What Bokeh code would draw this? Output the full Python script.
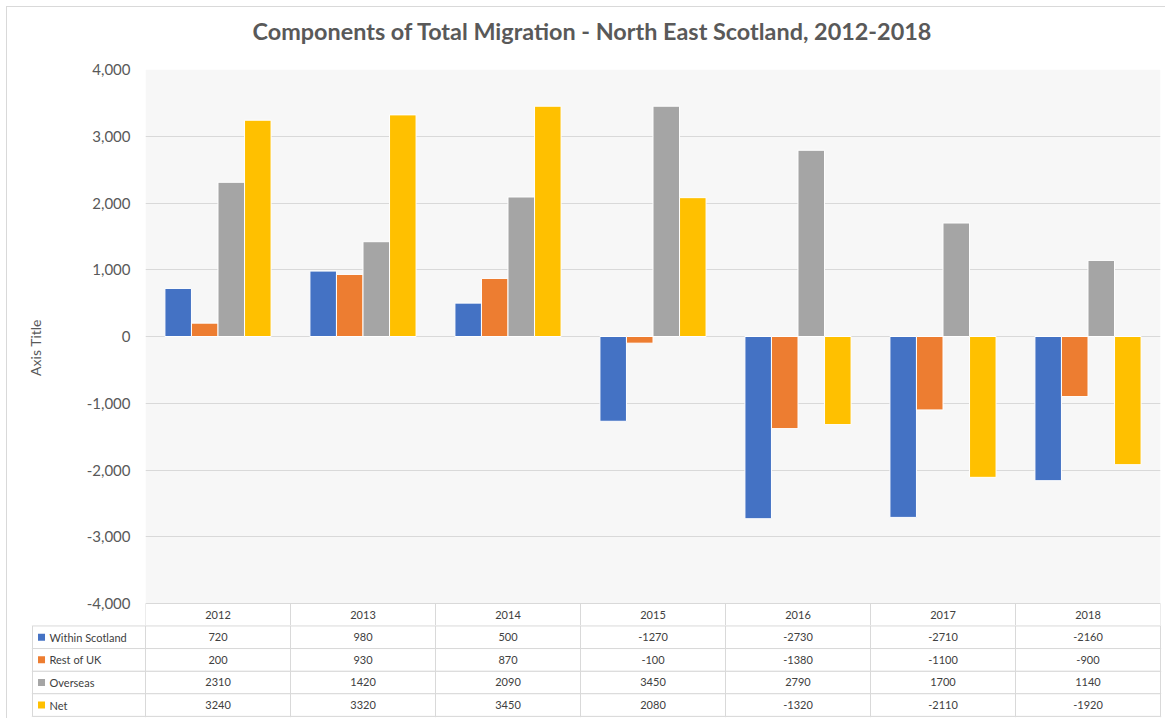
from bokeh.plotting import figure
from bokeh.layouts import column
from bokeh.models import (ColumnDataSource, FactorRange, Range1d, FixedTicker,
                          NumeralTickFormatter, BoxAnnotation, Title)
from bokeh.transform import dodge
from bokeh.core.properties import value
from bokeh.embed import file_html
from bokeh.resources import INLINE

# ---------------- data ----------------
years = ["2012", "2013", "2014", "2015", "2016", "2017", "2018"]
within_scotland = [720, 980, 500, -1270, -2730, -2710, -2160]
rest_of_uk = [200, 930, 870, -100, -1380, -1100, -900]
overseas = [2310, 1420, 2090, 3450, 2790, 1700, 1140]
net = [3240, 3320, 3450, 2080, -1320, -2110, -1920]
series_names = ["Within Scotland", "Rest of UK", "Overseas", "Net"]
series_colors = ["#4472C4", "#ED7D31", "#A5A5A5", "#FFC000"]
y_ticks = [-4000, -3000, -2000, -1000, 0, 1000, 2000, 3000, 4000]
chart_title = "Components of Total Migration - North East Scotland, 2012-2018"
y_axis_title = "Axis Title"

series_values = [within_scotland, rest_of_uk, overseas, net]

# ---------------- style ----------------
FONT = "Lato"
AXIS_GREY = "#595959"
TEXT_GREY = "#404040"
LINE_GREY = "#d9d9d9"
PLOT_BG = "#f7f7f7"

W = 1158
TOP = 62
PLOT_PX = 534
HEADER_PX = 22

y_low, y_high = y_ticks[0], y_ticks[-1]
units_per_px = (y_high - y_low) / PLOT_PX
y_start = y_low - HEADER_PX * units_per_px

p = figure(x_range=FactorRange(factors=years, range_padding=0),
           y_range=Range1d(y_start, y_high),
           width=W, height=TOP + PLOT_PX + HEADER_PX,
           output_backend="svg", toolbar_location=None,
           x_axis_location=None, frame_align=False,
           min_border_left=138, min_border_right=5,
           min_border_top=TOP, min_border_bottom=0,
           background_fill_color="white", border_fill_color="white",
           outline_line_color=None)

# spacer between title and plot area, then the title itself
spacer = Title(text=" ", text_font_size="2px", standoff=20)
p.add_layout(spacer, "above")
main_title = Title(text=chart_title, text_font=FONT, text_font_size="23.4px",
                   text_font_style="bold", text_color=AXIS_GREY,
                   align="left", offset=107, standoff=2)
p.add_layout(main_title, "above")

for g in p.xgrid:
    g.visible = False

# plot-area background only for the chart region
p.add_layout(BoxAnnotation(bottom=y_low, top=y_high, fill_color=PLOT_BG,
                           fill_alpha=1, line_color=None, level="image"))

p.ygrid.ticker = FixedTicker(ticks=y_ticks)
p.ygrid.grid_line_color = LINE_GREY
p.ygrid.grid_line_width = 1

ax = p.yaxis[0]
ax.ticker = FixedTicker(ticks=y_ticks)
ax.formatter = NumeralTickFormatter(format="0,0")
ax.axis_line_color = None
ax.major_tick_line_color = None
ax.minor_tick_line_color = None
ax.major_tick_out = 0
ax.major_tick_in = 0
ax.minor_tick_out = 0
ax.major_label_text_font = FONT
ax.major_label_text_font_size = "15px"
ax.major_label_text_color = AXIS_GREY
ax.major_label_standoff = 15
ax.axis_label = y_axis_title
ax.axis_label_text_font = FONT
ax.axis_label_text_font_size = "14px"
ax.axis_label_text_font_style = "normal"
ax.axis_label_text_color = AXIS_GREY
ax.axis_label_standoff = 40

src_data = {"year": years}
for j, vals in enumerate(series_values):
    src_data[f"s{j}"] = vals
src = ColumnDataSource(src_data)

n = len(series_names)
bar_w = 0.183
for j, color in enumerate(series_colors):
    off = (j - (n - 1) / 2) * bar_w
    p.vbar(x=dodge("year", off, range=p.x_range), top=f"s{j}", bottom=0,
           width=bar_w, source=src, fill_color=color, line_color="white",
           line_width=1)

# header row of the data table (inside the chart frame, below -4000)
ncols = len(years)
p.segment(x0=list(range(ncols + 1)), x1=list(range(ncols + 1)),
          y0=[y_start] * (ncols + 1), y1=[y_low] * (ncols + 1),
          line_color=LINE_GREY, line_width=1)
p.text(x=years, y=[(y_start + y_low) / 2] * ncols, text=years,
       text_align="center", text_baseline="middle",
       text_font=value(FONT), text_font_size="11px", text_color=TEXT_GREY)

# ---------------- data table body ----------------
lab_w = 113 / 145
t = figure(x_range=Range1d(-lab_w - 0.007, ncols + 0.007),
           y_range=Range1d(-0.05, n + 0.02),
           width=W, height=93, frame_align=False,
           output_backend="svg", toolbar_location=None,
           x_axis_location=None, y_axis_location=None,
           min_border_left=24, min_border_right=4,
           min_border_top=0, min_border_bottom=1,
           background_fill_color="white", border_fill_color="white",
           outline_line_color=None)

hy = list(range(n + 1))
t.segment(x0=[-lab_w] * len(hy), x1=[ncols] * len(hy), y0=hy, y1=hy,
          line_color=LINE_GREY, line_width=1)
vx = [-lab_w] + list(range(ncols + 1))
t.segment(x0=vx, x1=vx, y0=[0] * len(vx), y1=[n] * len(vx),
          line_color=LINE_GREY, line_width=1)

row_y = [n - 1 - j + 0.5 for j in range(n)]
t.scatter(x=[-lab_w + 9 / 145] * n, y=row_y, marker="square", size=7,
          fill_color=series_colors, line_color=None)
t.text(x=[-lab_w] * n, y=row_y, text=series_names, x_offset=17,
       text_align="left", text_baseline="middle",
       text_font=value(FONT), text_font_size="11px", text_color=TEXT_GREY)

cx, cy, ct = [], [], []
for j, vals in enumerate(series_values):
    for i, v in enumerate(vals):
        cx.append(i + 0.5)
        cy.append(row_y[j])
        ct.append(str(v))
t.text(x=cx, y=cy, text=ct, text_align="center", text_baseline="middle",
       text_font=value(FONT), text_font_size="11px", text_color=TEXT_GREY)

layout = column(p, t, spacing=0,
                styles={"margin": "6px 0 0 6px",
                        "border-top": "1px solid #d9d9d9",
                        "border-left": "1px solid #d9d9d9"})
open("out.html", "w").write(file_html(layout, INLINE))
